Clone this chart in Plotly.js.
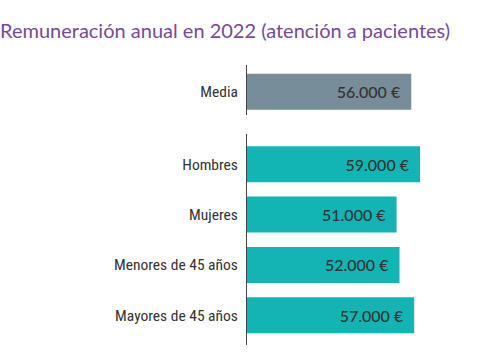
<!DOCTYPE html>
<html>
<head>
<meta charset="utf-8">
<script src="https://cdn.plot.ly/plotly-3.0.1.min.js"></script>
<style>html,body{margin:0;padding:0;background:#fff;}#chart{width:485px;height:360px;}</style>
</head>
<body>
<div id="chart"></div>
<script>
const titleText = 'Remuneración anual en 2022 (atención a pacientes)';
const avgCategory = ['Media'];
const avgValues = [56000];
const groupCategories = ['Hombres', 'Mujeres', 'Menores de 45 años', 'Mayores de 45 años'];
const groupValues = [59000, 51000, 52000, 57000];

const valueFont = {family: 'Lato, "Open Sans", sans-serif', size: 16, color: '#333333', weight: 500};
const common = {
  type: 'bar', orientation: 'h',
  textposition: 'inside', insidetextanchor: 'end',
  texttemplate: '%{x:,.0f} €\u00a0\u00a0',
  textfont: valueFont, insidetextfont: valueFont,
  hoverinfo: 'none', cliponaxis: false
};
const data = [
  Object.assign({}, common, {x: avgValues, y: avgCategory, xaxis: 'x', yaxis: 'y',
    marker: {color: '#778d99'}}),
  Object.assign({}, common, {x: groupValues, y: groupCategories, xaxis: 'x2', yaxis: 'y2',
    marker: {color: '#12b5b3'}})
];
const xa = {range: [0, 60000], showgrid: false, zeroline: false, showline: false,
  showticklabels: false, ticks: '', fixedrange: true};
const ya = {type: 'category', showgrid: false, zeroline: false, showline: true,
  linecolor: '#444444', linewidth: 1, ticks: '', ticklabelstandoff: 5,
  tickfont: {family: '"Liberation Sans Narrow", "Roboto Condensed", Roboto, sans-serif', size: 15.5, color: '#333333'}};
const layout = {
  width: 485, height: 360,
  margin: {l: 247, r: 62, t: 0, b: 0},
  paper_bgcolor: '#ffffff', plot_bgcolor: '#ffffff',
  separators: ',.',
  showlegend: false,
  bargap: 0.286,
  title: {text: titleText, x: 0, xref: 'container', xanchor: 'left',
    y: 0.915, yref: 'container', yanchor: 'middle',
    font: {family: 'Lato, sans-serif', size: 20, color: '#774a96'}},
  xaxis: Object.assign({}, xa, {anchor: 'y'}),
  xaxis2: Object.assign({}, xa, {anchor: 'y2'}),
  yaxis: Object.assign({}, ya, {anchor: 'x', domain: [0.6806, 0.8194], range: [0.46, -0.53]}),
  yaxis2: Object.assign({}, ya, {anchor: 'x2', domain: [0.0417, 0.6278], range: [3.59, -0.6]})
};
Plotly.newPlot('chart', data, layout, {displayModeBar: false, staticPlot: true});
</script>
</body>
</html>
